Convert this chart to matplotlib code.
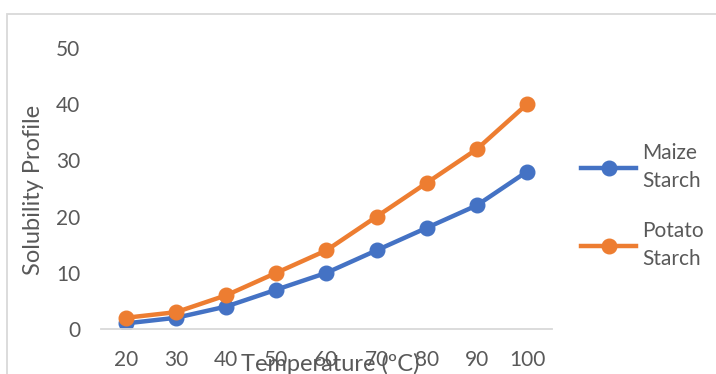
import matplotlib.pyplot as plt
from matplotlib.patches import Rectangle

# Solubility of two starches against temperature
temperatures = ['20', '30', '40', '50', '60', '70', '80', '90', '100']
maize = [1, 2, 4, 7, 10, 14, 18, 22, 28]
potato = [2, 3, 6, 10, 14, 20, 26, 32, 40]

plt.rcParams['font.family'] = ['Lato', 'DejaVu Sans']
grey = '#595959'

fig = plt.figure(figsize=(7.16, 3.74), dpi=100)
ax = fig.add_axes([0.141, 0.1203, 0.630, 0.7514])

# chart frame, only top and left edges fall inside the image
fig.patches.append(Rectangle((7 / 716, -0.5), 2, 0.5 + (374 - 14) / 374,
                             transform=fig.transFigure, fill=False,
                             edgecolor='#D9D9D9', linewidth=1.3))

x = range(len(temperatures))
ax.plot(x, maize, color='#4472C4', linewidth=3.2, marker='o', markersize=10.5,
        label='Maize\nStarch')
ax.plot(x, potato, color='#ED7D31', linewidth=3.2, marker='o', markersize=10.5,
        label='Potato\nStarch')

ax.set_xlim(-0.5, len(temperatures) - 0.5)
ax.set_ylim(0, 50)
ax.set_xticks(list(x))
ax.set_xticklabels(temperatures)
ax.set_yticks([0, 10, 20, 30, 40, 50])
ax.tick_params(length=0, labelsize=15, labelcolor=grey)
ax.tick_params(axis='x', pad=15)
ax.tick_params(axis='y', pad=15)

for side in ['top', 'right', 'left']:
    ax.spines[side].set_visible(False)
ax.spines['bottom'].set_color('#D9D9D9')
ax.spines['bottom'].set_linewidth(1.3)

fig.text(34 / 716, 1 - 190 / 374, 'Solubility Profile', rotation=90,
         ha='center', va='center', fontsize=17, color=grey)
fig.text(330 / 716, 1 - 364 / 374, 'Temperature (ºC)',
         ha='center', va='center', fontsize=17, color=grey)

leg = ax.legend(loc='center left', bbox_to_anchor=(581 / 716, 1 - 206 / 374),
                bbox_transform=fig.transFigure, frameon=False, fontsize=15,
                labelcolor=grey, handlelength=2.65, handletextpad=0.3,
                labelspacing=1.45, borderpad=0, borderaxespad=0)
for t in leg.get_texts():
    t.set_linespacing(1.5)

fig.savefig('out.png', dpi=100)
